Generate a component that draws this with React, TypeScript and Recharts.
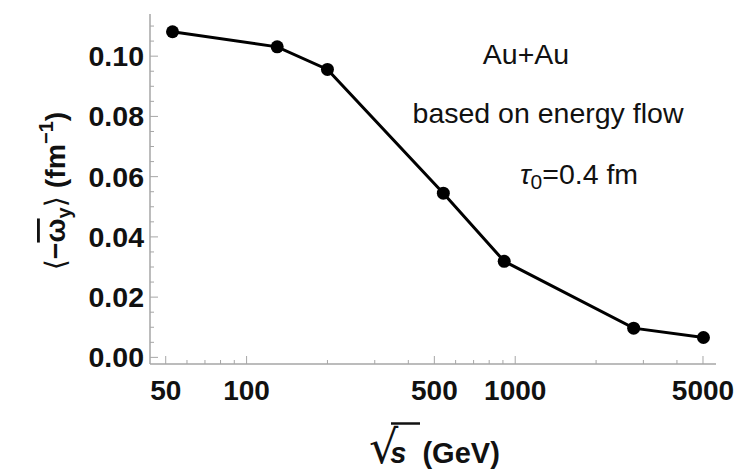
import React from 'react';
import { Customized, Line, LineChart, XAxis, YAxis } from 'recharts';

// collision energy (GeV) and mean vorticity (fm^-1)
const sqrtS = [53, 130, 200, 540, 910, 2760, 5020];
const omegaY = [0.1081, 0.1031, 0.0956, 0.0545, 0.0319, 0.0097, 0.0066];

const xTicks = [50, 60, 70, 80, 90, 100, 200, 300, 400, 500, 600, 700, 800, 900, 1000, 2000, 3000, 4000, 5000];
const xLabeled = [50, 100, 500, 1000, 5000];
const yTicks = [
  0, 0.005, 0.01, 0.015, 0.02, 0.025, 0.03, 0.035, 0.04, 0.045, 0.05, 0.055,
  0.06, 0.065, 0.07, 0.075, 0.08, 0.085, 0.09, 0.095, 0.1, 0.105, 0.11,
];
const yLabeled = [0, 0.02, 0.04, 0.06, 0.08, 0.1];

const data = sqrtS.map((s, i) => ({ s, w: omegaY[i] }));

const FRAME = '#a6a6a6';
const FONT = '"Liberation Sans", Arial, Helvetica, sans-serif';
const MAJOR = 8;
const MINOR = 4;

const isX = (v: number) => xLabeled.includes(v);
const isY = (v: number) => yLabeled.some((t) => Math.abs(t - v) < 1e-9);

function BottomTick({ x, y, payload }: any) {
  const major = isX(payload.value);
  return (
    <g>
      <line x1={x} x2={x} y1={y} y2={y - (major ? MAJOR : MINOR)} stroke={FRAME} strokeWidth={1} />
      {major && (
        <text x={x} y={y + 36} textAnchor="middle" fontFamily={FONT} fontWeight="bold" fontSize={28} fill="#111">
          {payload.value}
        </text>
      )}
    </g>
  );
}

function TopTick({ x, y, payload }: any) {
  const major = isX(payload.value);
  return <line x1={x} x2={x} y1={y} y2={y + (major ? MAJOR : MINOR)} stroke={FRAME} strokeWidth={1} />;
}

function LeftTick({ x, y, payload }: any) {
  const major = isY(payload.value);
  return (
    <g>
      <line x1={x} x2={x + (major ? MAJOR : MINOR)} y1={y} y2={y} stroke={FRAME} strokeWidth={1} />
      {major && (
        <text x={x - 6} y={y + 10} textAnchor="end" fontFamily={FONT} fontWeight="bold" fontSize={28.5} fill="#111">
          {payload.value.toFixed(2)}
        </text>
      )}
    </g>
  );
}

function RightTick({ x, y, payload }: any) {
  const major = isY(payload.value);
  return <line x1={x} x2={x - (major ? MAJOR : MINOR)} y1={y} y2={y} stroke={FRAME} strokeWidth={1} />;
}

function Annotations() {
  return (
    <g fontFamily={FONT} fill="#111">
      <text x={526} y={64} textAnchor="middle" fontSize={28.5}>Au+Au</text>
      <text x={548} y={123} textAnchor="middle" fontSize={28.5}>based on energy flow</text>
      <text x={579} y={184} textAnchor="middle" fontSize={28.5}>
        <tspan fontStyle="italic">τ</tspan>
        <tspan fontSize={21} dy={5}>0</tspan>
        <tspan dy={-5}>=0.4 fm</tspan>
      </text>

      {/* y axis title */}
      <text
        transform="translate(65,191) rotate(-90)"
        textAnchor="middle"
        fontSize={28.5}
        fontWeight="bold"
      >
        <tspan fontFamily="DejaVu Sans" fontWeight="normal">⟨</tspan>
        <tspan>−</tspan>
        <tspan textDecoration="overline">ω</tspan>
        <tspan fontSize={20} dy={6}>y</tspan>
        <tspan fontFamily="DejaVu Sans" fontWeight="normal" dy={-6}>⟩</tspan>
        <tspan> (fm</tspan>
        <tspan fontSize={20} dy={-12}>−1</tspan>
        <tspan dy={12}>)</tspan>
      </text>

      {/* x axis title: radical with its vinculum over s */}
      <text x={369} y={463} fontSize={29} fontWeight="bold">
        <tspan fontFamily="DejaVu Sans" fontWeight="normal" fontSize={46} letterSpacing={-8}>√</tspan>
        <tspan fontStyle="italic">s</tspan>
        <tspan dx={16}>(GeV)</tspan>
      </text>
      <line x1={391} x2={420} y1={423.5} y2={423.5} stroke="#111" strokeWidth={2.5} />
    </g>
  );
}

export default function App() {
  return (
    <div style={{ position: 'absolute', left: 0, top: 0, width: 742, height: 474, background: '#fff' }}>
      <LineChart width={742} height={474} data={data} margin={{ top: 14, right: 26, bottom: 0, left: 0 }}>
        <XAxis
          xAxisId="bottom"
          dataKey="s"
          type="number"
          scale="log"
          domain={[43.7, 5590]}
          allowDataOverflow
          ticks={xTicks}
          interval={0}
          height={110}
          tickSize={0}
          tickMargin={0}
          tickLine={false}
          axisLine={{ stroke: FRAME, strokeWidth: 1.5 }}
          tick={BottomTick}
        />
        <XAxis
          xAxisId="top"
          orientation="top"
          dataKey="s"
          type="number"
          scale="log"
          domain={[43.7, 5590]}
          allowDataOverflow
          ticks={xTicks}
          interval={0}
          height={0}
          tickSize={0}
          tickMargin={0}
          tickLine={false}
          axisLine={{ stroke: FRAME, strokeWidth: 1.5 }}
          tick={TopTick}
        />
        <YAxis
          yAxisId="left"
          type="number"
          domain={[-0.0022, 0.114]}
          allowDataOverflow
          ticks={yTicks}
          interval={0}
          width={150}
          tickSize={0}
          tickMargin={0}
          tickLine={false}
          axisLine={{ stroke: FRAME, strokeWidth: 1.5 }}
          tick={LeftTick}
        />
        <YAxis
          yAxisId="right"
          orientation="right"
          type="number"
          domain={[-0.0022, 0.114]}
          allowDataOverflow
          ticks={yTicks}
          interval={0}
          width={0}
          tickSize={0}
          tickMargin={0}
          tickLine={false}
          axisLine={{ stroke: FRAME, strokeWidth: 1.5 }}
          tick={RightTick}
        />
        <Line
          xAxisId="bottom"
          yAxisId="left"
          dataKey="w"
          stroke="#000"
          strokeWidth={3}
          dot={{ r: 6.5, fill: '#000', stroke: 'none' }}
          isAnimationActive={false}
        />
        <Customized component={Annotations} />
      </LineChart>
    </div>
  );
}
